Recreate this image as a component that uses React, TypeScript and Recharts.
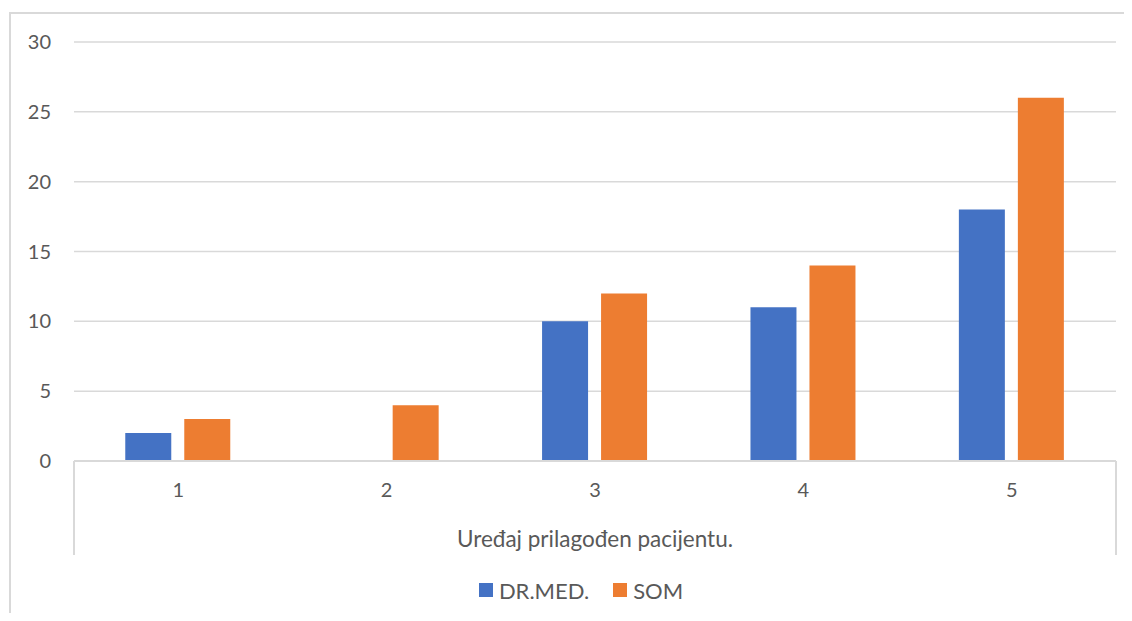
import React from 'react';
import { BarChart, Bar, XAxis, YAxis, CartesianGrid, Legend } from 'recharts';

const categories = ['1', '2', '3', '4', '5'];
const drMed = [2, 0, 10, 11, 18];
const som = [3, 4, 12, 14, 26];
const yTicks = [0, 5, 10, 15, 20, 25, 30];

const chartData = categories.map((c, i) => ({ category: c, drMed: drMed[i], som: som[i] }));

const FONT = 'Lato, "Noto Sans", sans-serif';
const TEXT = '#595959';
const GRID = '#d9d9d9';

const LegendContent = ({ payload }: any) => (
  <div style={{ display: 'flex', justifyContent: 'center', alignItems: 'center', height: 24, paddingLeft: 30 }}>
    {(payload || []).map((p: any, i: number) => (
      <div key={i} style={{ display: 'flex', alignItems: 'center', marginRight: i === 0 ? 24 : 0 }}>
        <span style={{ width: 14, height: 14, background: p.color, display: 'inline-block', marginRight: 6 }} />
        <span style={{ color: TEXT, fontSize: 22, fontFamily: FONT }}>{p.value}</span>
      </div>
    ))}
  </div>
);

const App: React.FC = () => {
  return (
    <div style={{ position: 'relative', width: 1116, height: 605, overflow: 'visible', fontFamily: FONT }}>
      <div style={{ position: 'absolute', left: -8, top: -8, width: 1132, height: 621, overflow: 'hidden' }}>
        {/* outer chart frame, cut off at the right and bottom like the source */}
        <div
          style={{
            position: 'absolute',
            left: 9,
            top: 12,
            width: 1140,
            height: 640,
            border: `2px solid ${GRID}`,
            boxSizing: 'border-box',
          }}
        />
        {/* side lines of the category axis box */}
        <div style={{ position: 'absolute', left: 73, top: 461, width: 2, height: 94, background: GRID }} />
        <div style={{ position: 'absolute', left: 1115, top: 461, width: 2, height: 94, background: GRID }} />
        <BarChart
          width={1132}
          height={621}
          data={chartData}
          margin={{ top: 42, right: 16, left: 10, bottom: 0 }}
          barCategoryGap="24.6%"
          barGap={13}
          style={{ position: 'absolute', left: 0, top: 0 }}
        >
          <CartesianGrid vertical={false} stroke={GRID} strokeWidth={1.5} />
          <XAxis
            dataKey="category"
            height={136}
            stroke={GRID}
            strokeWidth={2}
            tickLine={false}
            tickSize={0}
            tickMargin={22}
            tick={{ fill: TEXT, fontSize: 20, fontFamily: FONT }}
            label={{
              value: 'Uređaj prilagođen pacijentu.',
              position: 'insideTop',
              offset: 70,
              fill: TEXT,
              fontSize: 22.5,
              fontFamily: FONT,
            }}
          />
          <YAxis
            width={64}
            domain={[0, 30]}
            ticks={yTicks}
            axisLine={false}
            tickLine={false}
            tickSize={0}
            tickMargin={23}
            tick={{ fill: TEXT, fontSize: 20, fontFamily: FONT }}
          />
          <Legend
            verticalAlign="bottom"
            align="center"
            content={<LegendContent />}
            wrapperStyle={{ top: 578, left: 0, width: 1132 }}
          />
          <Bar dataKey="drMed" name="DR.MED." fill="#4472C4" isAnimationActive={false} />
          <Bar dataKey="som" name="SOM" fill="#ED7D31" isAnimationActive={false} />
        </BarChart>
      </div>
    </div>
  );
};

export default App;
